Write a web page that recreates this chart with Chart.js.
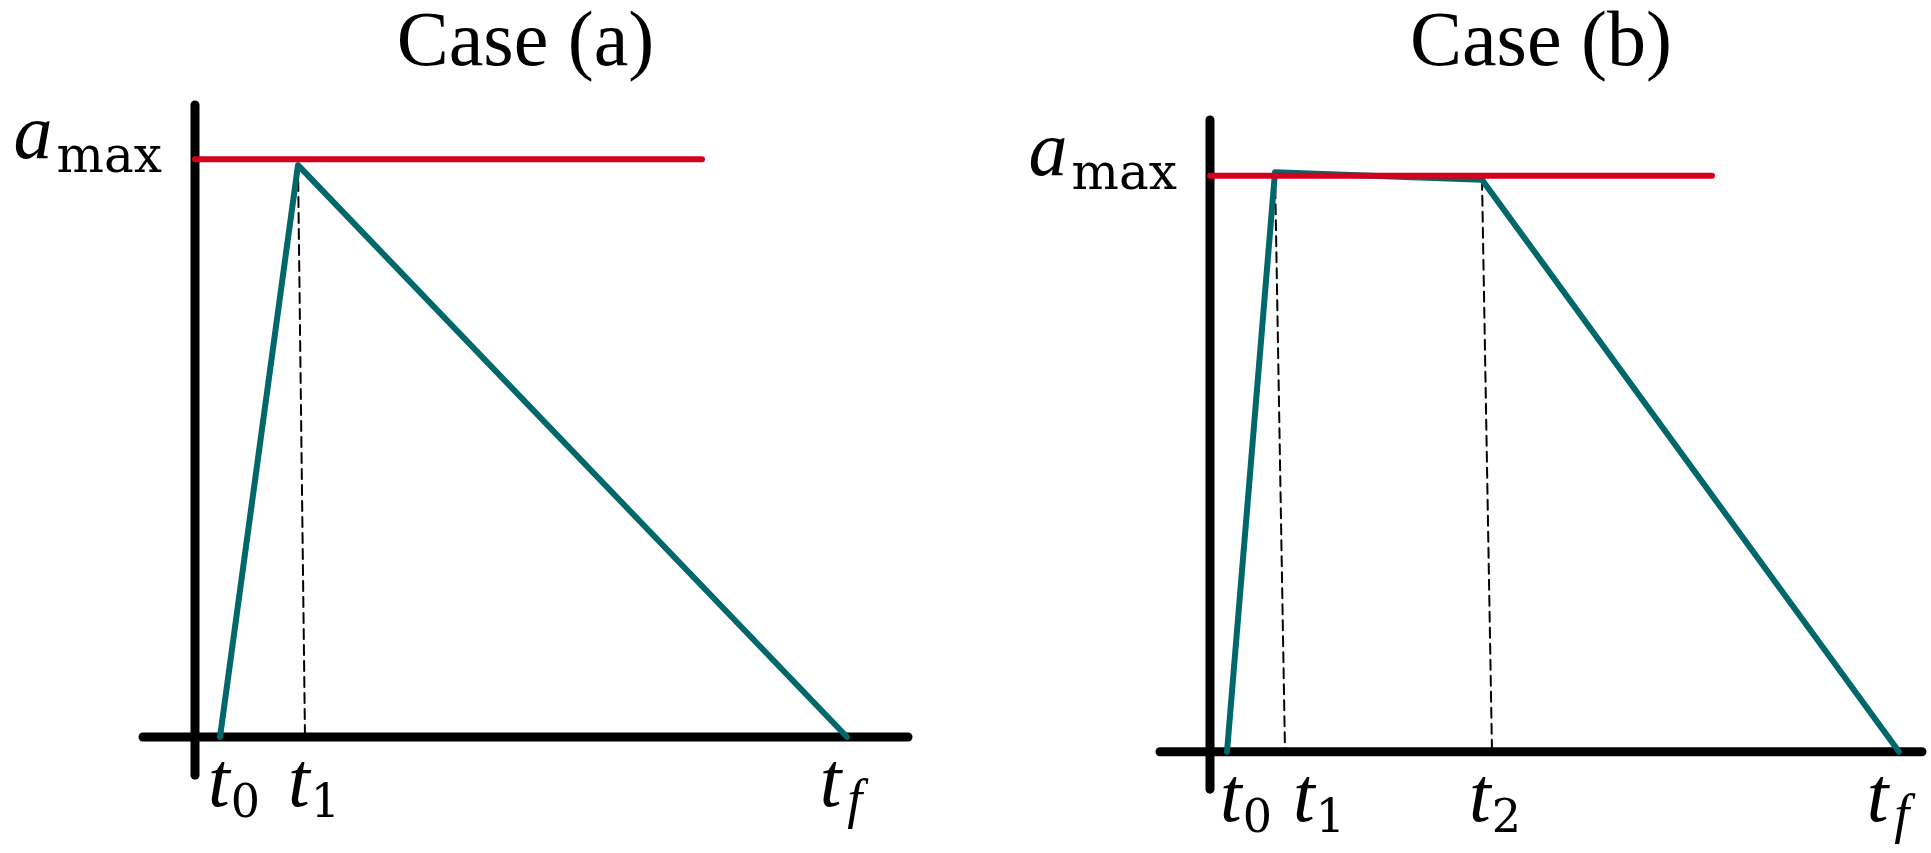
<!DOCTYPE html>
<html>
<head>
<meta charset="utf-8">
<script src="https://cdn.jsdelivr.net/npm/chart.js@4"></script>
<style>
  html, body { margin: 0; background: #fff; overflow: hidden; }
  canvas { position: absolute; top: 0; }
  .probe { position: absolute; left: -999px; top: 0; font-family: "Liberation Serif", serif; }
  .probe2 { position: absolute; left: -999px; top: 0; font-family: "DejaVu Serif", serif; }
</style>
</head>
<body>
<span class="probe"><i>a t f</i> Case</span><span class="probe2">max 012</span>
<canvas id="caseA" width="960" height="853" style="left:0px"></canvas>
<canvas id="caseB" width="971" height="853" style="left:960px"></canvas>
<script>
// acceleration limit (normalised)
const aMax = 1;

// Case (a): t0, t1, tf and the acceleration at each
const timesA = [0.25, 1.03, 6.52];
const accelA = [0, 0.99, 0];
const guideIdxA = [1];          // dashed drop from the t1 vertex
const guideFootA = [1.10];
const tickSubA = ["0", "1", "f"];
const tickAtA = [0.39, 1.19, 6.46];
const xAxisA = [-0.52, 7.13];
const yAxisA = [-0.066, 1.094];
const limitEndA = 5.07;

// Case (b): t0, t1, t2, tf
const timesB = [0.17, 0.65, 2.72, 6.89];
const accelB = [0, 1.006, 0.993, 0];
const guideIdxB = [1, 2];
const guideFootB = [0.75, 2.82];
const tickSubB = ["0", "1", "2", "f"];
const tickAtB = [0.36, 1.09, 2.85, 6.78];
const xAxisB = [-0.5, 7.12];
const yAxisB = [-0.065, 1.097];
const limitEndB = 5.02;

const TEAL = "rgb(0, 104, 106)";
const RED = "rgb(210, 0, 30)";
const SERIF = '"Liberation Serif", "Times New Roman", Times, serif';
const ROMAN = '"DejaVu Serif", "Liberation Serif", serif';
const TITLE_FONT = "78px " + SERIF;
const ITALIC = "italic 78px " + SERIF;
const ITALIC_SUB = "italic 54px " + SERIF;
const ROMAN_SUB = "46px " + ROMAN;
const MAX_FONT = "50px " + ROMAN;

function seg(points, color, width, order, dash) {
  return {
    data: points,
    borderColor: color,
    borderWidth: width,
    borderCapStyle: "round",
    borderJoinStyle: "round",
    borderDash: dash || [],
    pointRadius: 0,
    tension: 0,
    fill: false,
    clip: false,
    order: order,
  };
}

// draws the title, a_max and the t_i labels
const mathLabels = {
  id: "mathLabels",
  afterDatasetsDraw(chart, args, opts) {
    const { ctx } = chart;
    const x = chart.scales.x, y = chart.scales.y;
    ctx.save();
    ctx.fillStyle = "#000";
    ctx.textBaseline = "alphabetic";

    ctx.font = TITLE_FONT;
    ctx.textAlign = "center";
    ctx.fillText(opts.title, x.getPixelForValue((opts.xAxis[0] + opts.xAxis[1]) / 2), 65);

    ctx.textAlign = "left";
    const ay = y.getPixelForValue(aMax);
    const right = x.getPixelForValue(0) - 33;
    ctx.font = MAX_FONT;
    const wMax = ctx.measureText("max").width;
    ctx.fillText("max", right - wMax, ay + 13);
    ctx.font = ITALIC;
    const wA = ctx.measureText("a").width;
    ctx.fillText("a", right - wMax - wA - 4, ay - 1);

    const base = y.getPixelForValue(0) + 69;
    opts.subs.forEach((s, i) => {
      ctx.font = ITALIC;
      const wT = ctx.measureText("t").width;
      const subFont = s === "f" ? ITALIC_SUB : ROMAN_SUB;
      const gap = s === "f" ? 6 : 1;
      ctx.font = subFont;
      const wS = ctx.measureText(s).width;
      const start = x.getPixelForValue(opts.tickAt[i]) - (wT + gap + wS) / 2;
      ctx.font = ITALIC;
      ctx.fillText("t", start, base);
      ctx.font = subFont;
      ctx.fillText(s, start + wT + gap, base + 11);
    });
    ctx.restore();
  },
};

function buildCase(id, title, times, accel, guideIdx, guideFoot, subs, tickAt, xAxis, yAxis, limitEnd, pad, xr, yr) {
  const profile = times.map((t, i) => ({ x: t, y: accel[i] }));
  const datasets = [
    seg([{ x: 0, y: aMax }, { x: limitEnd, y: aMax }], RED, 6, 0),
    seg(profile, TEAL, 6, 1),
  ];
  guideIdx.forEach((k, i) => {
    datasets.push(seg([{ x: times[k], y: accel[k] }, { x: guideFoot[i], y: 0 }], "#000", 2, 2, [10, 6]));
  });
  datasets.push(seg([{ x: xAxis[0], y: 0 }, { x: xAxis[1], y: 0 }], "#000", 9, 3));
  datasets.push(seg([{ x: 0, y: yAxis[0] }, { x: 0, y: yAxis[1] }], "#000", 9, 3));

  return new Chart(document.getElementById(id), {
    type: "line",
    data: { datasets: datasets },
    options: {
      responsive: false,
      animation: false,
      layout: { padding: pad },
      scales: {
        x: { type: "linear", min: xr[0], max: xr[1], display: false },
        y: { type: "linear", min: yr[0], max: yr[1], display: false },
      },
      plugins: {
        legend: { display: false },
        tooltip: { enabled: false },
        mathLabels: { title: title, subs: subs, tickAt: tickAt, xAxis: xAxis },
      },
    },
    plugins: [mathLabels],
  });
}

function drawAll() {
  buildCase("caseA", "Case (a)", timesA, accelA, guideIdxA, guideFootA, tickSubA, tickAtA, xAxisA, yAxisA, limitEndA,
    { left: 100, right: 20, top: 90, bottom: 60 }, [-0.95, 7.45], [-0.0969, 1.12]);
  buildCase("caseB", "Case (b)", timesB, accelB, guideIdxB, guideFootB, tickSubB, tickAtB, xAxisB, yAxisB, limitEndB,
    { left: 100, right: 20, top: 90, bottom: 60 }, [-1.5, 7.01], [-0.0717, 1.149]);
}

Promise.all([TITLE_FONT, ITALIC, ITALIC_SUB, ROMAN_SUB, MAX_FONT].map(f => document.fonts.load(f, "Case tmax012f")))
  .catch(() => null)
  .then(drawAll);
</script>
</body>
</html>
